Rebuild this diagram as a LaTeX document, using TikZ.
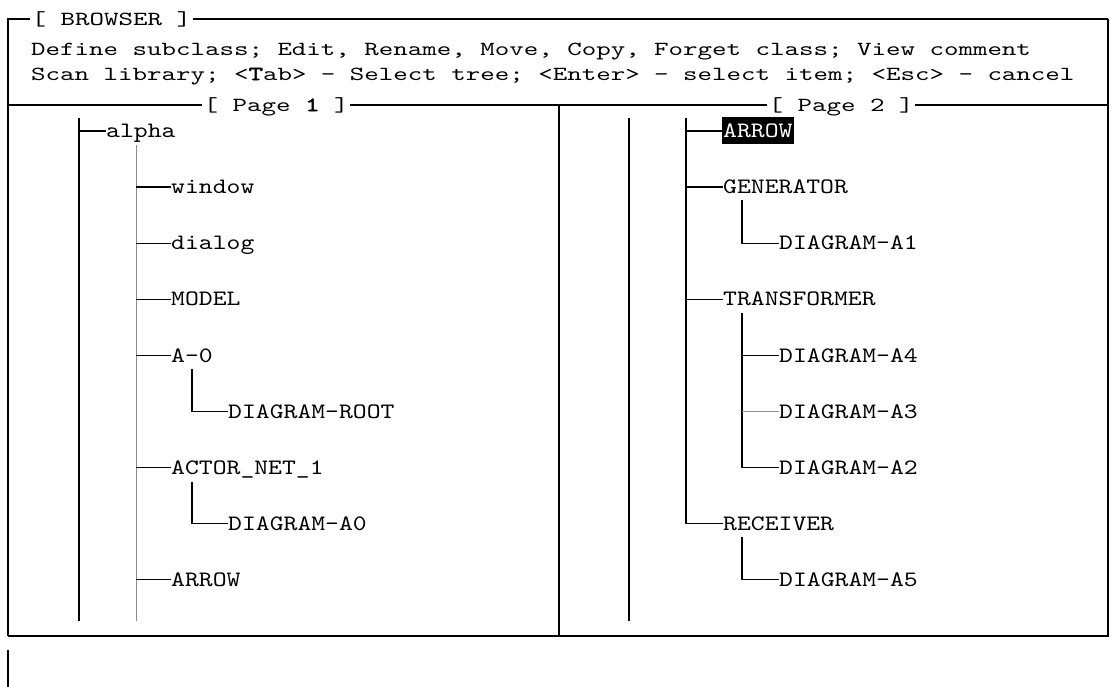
\documentclass[tikz,border=0pt]{standalone}
\usepackage{fontspec}

% widened typewriter faces for the menu lines and the tree entries
\newfontfamily\menuface{lmmono10-regular}[Extension=.otf, FakeStretch=1.38,
  BoldFont=lmmono10-regular, BoldFeatures={FakeBold=2.5}]
\newfontfamily\entryface{lmmono10-regular}[Extension=.otf, FakeStretch=1.2]
\newcommand\menufont{\menuface\fontsize{20}{20}\selectfont}
\newcommand\entryfont{\entryface\fontsize{22}{22}\selectfont}

\tikzset{
  hdr/.style={font=\menufont, inner sep=0pt,
              text height=12.2pt, text depth=0pt, anchor=west},
  ttl/.style={hdr, inner xsep=1.5pt},
  lbl/.style={font=\entryfont, inner sep=0pt,
              text height=13.4pt, text depth=0pt, anchor=west},
  sel/.style={lbl, fill=black, text=white, inner xsep=1pt, minimum height=27pt},
  frameln/.style={line width=1.1pt, black},
  heavy/.style={line width=2pt, black},
  trunk/.style={line width=1.8pt, black},
  branchln/.style={line width=1.2pt, black},
  grayln/.style={line width=1pt, black!45},
}

\begin{document}
\begin{tikzpicture}[x=1pt,y=-1pt]
  \useasboundingbox (0,0) rectangle (1112,687);
  \fill[white] (0,0) rectangle (1112,687);

  % ---- window frame ----
  \coordinate (tl) at (8,19);
  \coordinate (tr) at (1108,19);
  \coordinate (br) at (1108,636);
  \coordinate (bl) at (8,636);
  \coordinate (sl) at (8,105);
  \coordinate (sr) at (1108,105);
  \coordinate (dt) at (559,105);
  \coordinate (db) at (559,636);
  \coordinate (ea) at (8,650);
  \coordinate (eb) at (8,687);

  \node[ttl] (title) at (30,19) {[ BROWSER ]};
  \node[hdr] (menu1) at (31,49) {Define subclass; Edit, Rename, Move, Copy, Forget class; View comment};
  \node[hdr] (menu2) at (31,74) {Scan library; <\textbf{T}ab> - Select tree; <Enter> - select item; <Esc> - cancel};
  \node[ttl] (page1) at (202,105) {[ Page \textbf{1} ]};
  \node[ttl] (page2) at (767,105) {[ Page 2 ]};

  \draw[frameln] (bl) -- (tl) -- (title.west);
  \draw[frameln] (title.east) -- (tr);
  \draw[heavy] (tr) -- (br) -- (bl);
  \draw[frameln] (sl) -- (page1.west);
  \draw[frameln] (page1.east) -- (page2.west);
  \draw[frameln] (page2.east) -- (sr);
  \draw[heavy] (dt) -- (db);
  \draw[frameln] (ea) -- (eb);

  % ---- page 1 tree ----
  \coordinate (t1a) at (79,118);
  \coordinate (t1b) at (79,621);
  \coordinate (t2a) at (136,145);
  \coordinate (t2b) at (136,621);
  \coordinate (a0stem) at (192,369);
  \coordinate (netstem) at (192,482);

  \node[lbl] (alpha)  at (106,131.0) {alpha};
  \node[lbl] (window) at (171,187.1) {window};
  \node[lbl] (dialog) at (171,243.2) {dialog};
  \node[lbl] (model)  at (171,299.3) {MODEL};
  \node[lbl] (azero)  at (171,355.4) {A-0};
  \node[lbl] (droot)  at (228,411.5) {DIAGRAM-ROOT};
  \node[lbl] (actor)  at (171,467.6) {ACTOR\_NET\_1};
  \node[lbl] (dazero) at (228,523.7) {DIAGRAM-A0};
  \node[lbl] (arrowl) at (171,579.8) {ARROW};

  \draw[trunk] (t1a) -- (t1b);
  \draw[branchln] (t1a |- alpha.west) -- (alpha.west);
  \draw[grayln] (t2a) -- (t2b);
  \foreach \n in {window,dialog,model,azero,actor,arrowl}
    \draw[branchln] (t2a |- \n.west) -- (\n.west);
  \draw[trunk] (a0stem) -- (a0stem |- droot.west);
  \draw[branchln] (a0stem |- droot.west) -- (droot.west);
  \draw[trunk] (netstem) -- (netstem |- dazero.west);
  \draw[branchln] (netstem |- dazero.west) -- (dazero.west);

  % ---- page 2 tree ----
  \coordinate (r0a) at (629,118);
  \coordinate (r0b) at (629,621);
  \coordinate (r1a) at (686,118);
  \coordinate (genstem) at (742,200);
  \coordinate (trstem) at (742,313);
  \coordinate (rcvstem) at (742,537);

  \node[sel] (arrowr)      at (722,131.0) {ARROW};
  \node[lbl] (generator)   at (723,187.1) {GENERATOR};
  \node[lbl] (daone)       at (779,243.2) {DIAGRAM-A1};
  \node[lbl] (transformer) at (723,299.3) {TRANSFORMER};
  \node[lbl] (dafour)      at (779,355.4) {DIAGRAM-A4};
  \node[lbl] (dathree)     at (779,411.5) {DIAGRAM-A3};
  \node[lbl] (datwo)       at (779,467.6) {DIAGRAM-A2};
  \node[lbl] (receiver)    at (723,523.7) {RECEIVER};
  \node[lbl] (dafive)      at (779,579.8) {DIAGRAM-A5};

  \draw[branchln] (r0a) -- (r0b);
  \draw[branchln] (r1a) |- (receiver.west);
  \foreach \n in {arrowr,generator,transformer}
    \draw[branchln] (r1a |- \n.west) -- (\n.west);
  \draw[branchln] (genstem) |- (daone.west);
  \draw[branchln] (trstem) |- (datwo.west);
  \draw[branchln] (trstem |- dafour.west) -- (dafour.west);
  \draw[grayln] (trstem |- dathree.west) -- (dathree.west);
  \draw[branchln] (rcvstem) |- (dafive.west);
\end{tikzpicture}
\end{document}
